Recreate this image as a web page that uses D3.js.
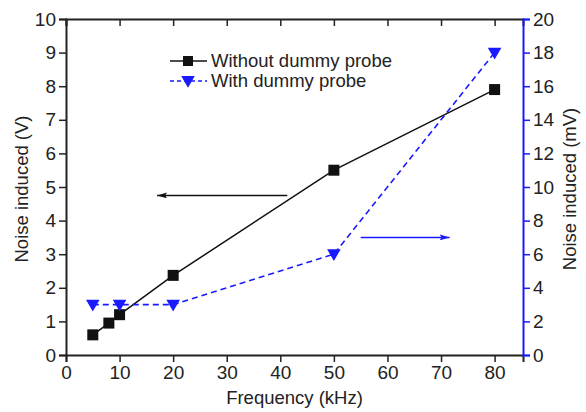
<!DOCTYPE html>
<html>
<head>
<meta charset="utf-8">
<script src="https://cdn.jsdelivr.net/npm/d3@7"></script>
<style>
  body { margin: 0; background: #fff; }
  text { font-family: "Liberation Sans", Arial, sans-serif; }
</style>
</head>
<body>
<script>
// data
var freqWithout = [5, 8, 10, 20, 50, 80];
var noiseWithout = [0.6, 0.95, 1.2, 2.37, 5.5, 7.9];   // V, left axis
var freqWith = [5, 10, 20, 50, 80];
var noiseWith = [3, 3, 3, 6, 18];                       // mV, right axis
var xTicks = [0, 10, 20, 30, 40, 50, 60, 70, 80];
var leftTicks = [0, 1, 2, 3, 4, 5, 6, 7, 8, 9, 10];
var rightTicks = [0, 2, 4, 6, 8, 10, 12, 14, 16, 18, 20];

var width = 586, height = 412;
var margin = { top: 19, right: 63, bottom: 57, left: 66 };
var blue = "#1a1aff";

var svg = d3.select("body").append("svg")
  .attr("width", width)
  .attr("height", height);

var x = d3.scaleLinear().domain([0, 85.3]).range([margin.left, width - margin.right]);
var yL = d3.scaleLinear().domain([0, 10]).range([height - margin.bottom, margin.top]);
var yR = d3.scaleLinear().domain([0, 20]).range([height - margin.bottom, margin.top]);

// minor ticks first, then major
function minor(axis, vals) {
  return axis.tickValues(vals).tickSize(4).tickFormat("");
}
var xMinor = d3.range(5, 85, 10);
var lMinor = d3.range(0.5, 10, 1);
var rMinor = d3.range(1, 20, 2);

var gB = svg.append("g").attr("transform", "translate(0," + yL(0) + ")");
gB.call(minor(d3.axisBottom(x), xMinor));
gB.call(d3.axisBottom(x).tickValues(xTicks).tickSize(7).tickPadding(4));

var gT = svg.append("g").attr("transform", "translate(0," + yL(10) + ")");
gT.call(minor(d3.axisBottom(x), xMinor));
gT.call(d3.axisBottom(x).tickValues(xTicks).tickSize(7).tickFormat(""));

var gL = svg.append("g").attr("transform", "translate(" + x(0) + ",0)");
gL.call(minor(d3.axisLeft(yL), lMinor));
gL.call(d3.axisLeft(yL).tickValues(leftTicks).tickSize(7).tickPadding(3));

var gR = svg.append("g").attr("class", "right").attr("transform", "translate(" + x(85.3) + ",0)");
gR.call(minor(d3.axisRight(yR), rMinor));
gR.call(d3.axisRight(yR).tickValues(rightTicks).tickSize(7).tickPadding(3));

svg.selectAll(".domain").attr("stroke", "#222").attr("stroke-width", 2);
svg.selectAll(".tick line").attr("stroke", "#222").attr("stroke-width", 1.5);
gR.selectAll(".domain, .tick line").attr("stroke", blue);
svg.selectAll(".tick text").attr("font-size", 19).attr("fill", "#222");

// axis titles
svg.append("text")
  .attr("x", (x(0) + x(85.3)) / 2).attr("y", 404)
  .attr("text-anchor", "middle").attr("font-size", 18.5).attr("fill", "#222")
  .text("Frequency (kHz)");
svg.append("text")
  .attr("transform", "translate(28," + (yL(5) + 2) + ") rotate(-90)")
  .attr("text-anchor", "middle").attr("font-size", 18.5).attr("fill", "#222")
  .text("Noise induced (V)");
svg.append("text")
  .attr("transform", "translate(576," + (yL(5) + 2) + ") rotate(-90)")
  .attr("text-anchor", "middle").attr("font-size", 18.5).attr("fill", "#222")
  .text("Noise induced (mV)");

// series
var black = freqWithout.map(function (f, i) { return [x(f), yL(noiseWithout[i])]; });
var blues = freqWith.map(function (f, i) { return [x(f), yR(noiseWith[i])]; });

svg.append("path").attr("d", d3.line()(black))
  .attr("fill", "none").attr("stroke", "#111").attr("stroke-width", 1.5);
svg.append("path").attr("d", d3.line()(blues))
  .attr("fill", "none").attr("stroke", blue).attr("stroke-width", 1.6)
  .attr("stroke-dasharray", "6,4");

svg.selectAll(".sq").data(black).enter().append("rect")
  .attr("x", function (d) { return d[0] - 5.5; })
  .attr("y", function (d) { return d[1] - 5.5; })
  .attr("width", 11).attr("height", 11).attr("fill", "#111");

var tri = d3.symbol().type(d3.symbolTriangle).size(80);
svg.selectAll(".tri").data(blues).enter().append("path")
  .attr("d", tri)
  .attr("transform", function (d) { return "translate(" + d[0] + "," + (d[1] - 1) + ") rotate(180)"; })
  .attr("fill", blue);

// arrows pointing at each axis
var defs = svg.append("defs");
function head(id, color) {
  defs.append("marker").attr("id", id)
    .attr("viewBox", "0 0 10 6").attr("refX", 10).attr("refY", 3)
    .attr("markerWidth", 10).attr("markerHeight", 6).attr("markerUnits", "userSpaceOnUse")
    .attr("orient", "auto")
    .append("path").attr("d", "M0,0 L10,3 L0,6 L2,3 Z").attr("fill", color);
}
head("ab", "#111");
head("bb", blue);
svg.append("line")
  .attr("x1", x(41.3)).attr("x2", x(17)).attr("y1", yL(4.75)).attr("y2", yL(4.75))
  .attr("stroke", "#111").attr("stroke-width", 1.5).attr("marker-end", "url(#ab)");
svg.append("line")
  .attr("x1", x(55)).attr("x2", x(71.6)).attr("y1", yR(7)).attr("y2", yR(7))
  .attr("stroke", blue).attr("stroke-width", 1.5).attr("marker-end", "url(#bb)");

// legend
var legend = [
  { label: "Without dummy probe", color: "#111", dash: null, y: 61 },
  { label: "With dummy probe", color: blue, dash: "4,3", y: 81 }
];
var lg = svg.selectAll(".lg").data(legend).enter().append("g");
lg.append("line")
  .attr("x1", 170).attr("x2", 207)
  .attr("y1", function (d) { return d.y; }).attr("y2", function (d) { return d.y; })
  .attr("stroke", function (d) { return d.color; }).attr("stroke-width", 1.5)
  .attr("stroke-dasharray", function (d) { return d.dash; });
lg.filter(function (d, i) { return i === 0; }).append("rect")
  .attr("x", 183).attr("y", 56).attr("width", 10).attr("height", 10).attr("fill", "#111");
lg.filter(function (d, i) { return i === 1; }).append("path")
  .attr("d", tri).attr("transform", "translate(188,80) rotate(180)").attr("fill", blue);
lg.append("text")
  .attr("x", 211).attr("y", function (d) { return d.y + 6; })
  .attr("font-size", 18.5).attr("fill", "#222")
  .text(function (d) { return d.label; });
</script>
</body>
</html>
